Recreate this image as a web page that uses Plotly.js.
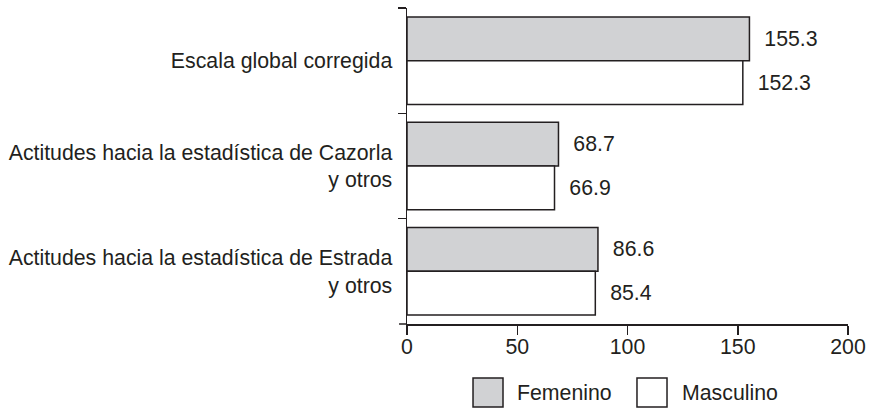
<!DOCTYPE html>
<html>
<head>
<meta charset="utf-8">
<script src="https://cdn.plot.ly/plotly-3.0.1.min.js"></script>
<style>html,body{margin:0;padding:0;background:#fff;}#chart{width:871px;height:409px;}</style>
</head>
<body>
<div id="chart"></div>
<script>
var categories = [
  "Escala global corregida",
  "Actitudes hacia la estadística de Cazorla<br>y otros",
  "Actitudes hacia la estadística de Estrada<br>y otros"
];
var femenino = [155.3, 68.7, 86.6];
var masculino = [152.3, 66.9, 85.4];
var seriesNames = ["Femenino", "Masculino"];
var xTicks = [0, 50, 100, 150, 200];

var ink = "#231f20";
var font = {family: "Liberation Sans, Arial, sans-serif", size: 21.3, color: ink};

function bar(name, vals, fill) {
  return {
    type: "bar", orientation: "h", name: name,
    y: categories, x: vals,
    marker: {color: fill, line: {color: ink, width: 1.5}},
    text: vals.map(function(v){ return "\u00a0\u00a0" + v.toFixed(1); }),
    textposition: "outside", cliponaxis: false,
    textfont: font, hoverinfo: "skip"
  };
}

var data = [bar(seriesNames[0], femenino, "#d1d2d4"), bar(seriesNames[1], masculino, "#ffffff")];

var layout = {
  width: 871, height: 409,
  margin: {l: 407, r: 23, t: 8, b: 85},
  paper_bgcolor: "#fff", plot_bgcolor: "#fff",
  font: font,
  barmode: "group", bargap: 0.17, bargroupgap: 0,
  showlegend: false,
  xaxis: {
    range: [0, 200], tickvals: xTicks, ticktext: xTicks.map(String),
    showgrid: false, zeroline: false, showline: true, linecolor: ink, linewidth: 1.5,
    ticks: "outside", ticklen: 9, tickwidth: 1.5, tickcolor: ink,
    ticklabelstandoff: -6,
    tickfont: font, fixedrange: true
  },
  yaxis: {
    autorange: "reversed", type: "category",
    showgrid: false, zeroline: false, showline: true, linecolor: ink, linewidth: 1.5,
    ticks: "outside", tickson: "boundaries", ticklen: 8, tickwidth: 1.5, tickcolor: ink,
    ticklabelstandoff: 9,
    tickfont: font, automargin: false, fixedrange: true
  },
  shapes: [
    {type: "line", xref: "paper", yref: "paper", x0: -0.018, x1: 0, y0: 0, y1: 0, line: {color: ink, width: 1.5}},
    {type: "rect", xref: "paper", yref: "paper", x0: 0.1497, x1: 0.2177, y0: -0.2627, y1: -0.1709, fillcolor: "#d1d2d4", line: {color: ink, width: 1.5}},
    {type: "rect", xref: "paper", yref: "paper", x0: 0.5215, x1: 0.5896, y0: -0.2627, y1: -0.1709, fillcolor: "#ffffff", line: {color: ink, width: 1.5}}
  ],
  annotations: [
    {xref: "paper", yref: "paper", x: 0.2449, y: -0.2184, xanchor: "left", yanchor: "middle", text: seriesNames[0], showarrow: false, font: font},
    {xref: "paper", yref: "paper", x: 0.619, y: -0.2184, xanchor: "left", yanchor: "middle", text: seriesNames[1], showarrow: false, font: font}
  ]
};

Plotly.newPlot("chart", data, layout, {staticPlot: true, displayModeBar: false});
</script>
</body>
</html>
